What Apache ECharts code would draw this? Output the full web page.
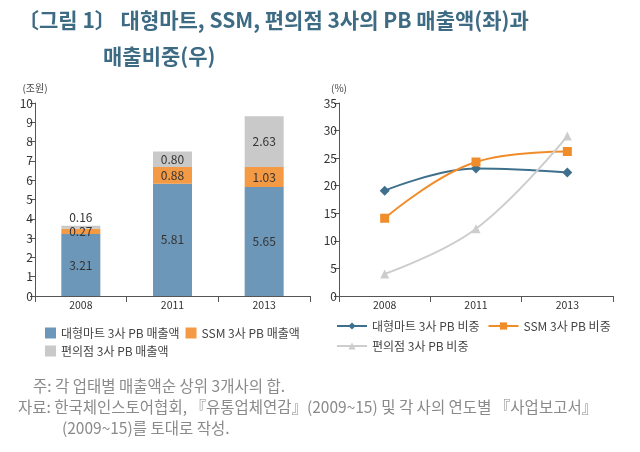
<!DOCTYPE html>
<html><head><meta charset="utf-8">
<script src="https://cdn.jsdelivr.net/npm/echarts@6/dist/echarts.min.js"></script>
<style>html,body{margin:0;padding:0;background:#fff}#c{width:640px;height:452px}</style>
</head><body><div id="c"></div>
<script>
const years = ['2008', '2011', '2013'];
const hyperSales = [3.21, 5.81, 5.65];
const ssmSales = [0.27, 0.88, 1.03];
const cvsSales = [0.16, 0.80, 2.63];
const hyperShare = [19.1, 23.1, 22.4];
const ssmShare = [14.1, 24.3, 26.2];
const cvsShare = [4.0, 12.2, 29.0];
const barNames = ['대형마트 3사 PB 매출액', 'SSM 3사 PB 매출액', '편의점 3사 PB 매출액'];
const lineNames = ['대형마트 3사 PB 비중', 'SSM 3사 PB 비중', '편의점 3사 PB 비중'];

const FONT = '"Noto Sans CJK KR", "Noto Sans", sans-serif';
const barColors = ['#6d97b8', '#f49a45', '#c9c9c9'];
const lineColors = ['#3e6f8c', '#f08c2a', '#cdcdcd'];
const axisColor = '#555';
const labelStyle = { color: '#333', fontSize: 12, fontFamily: FONT };
const noteStyle = { color: '#8a8a8a', fontSize: 15.5, fontWeight: 'normal', fontFamily: FONT };
const titleStyle = { color: '#3e6b84', fontSize: 21, fontWeight: 'bold', fontFamily: FONT };
const legendText = { color: '#444', fontSize: 12, fontFamily: FONT };

const chart = echarts.init(document.getElementById('c'));

function barLabelData(vals) {
  return vals.map(v => {
    const item = { value: v };
    if (v < 0.2) item.label = { position: 'top', distance: 2 };
    return item;
  });
}

const xAxisCommon = {
  type: 'category', data: years,
  axisLine: { lineStyle: { color: axisColor, width: 1 } },
  axisTick: { show: true, length: 6, lineStyle: { color: axisColor } },
  axisLabel: { color: '#333', fontSize: 10.5, fontFamily: FONT, margin: 4 }
};
const yAxisCommon = {
  type: 'value',
  axisLine: { show: true, lineStyle: { color: axisColor } },
  axisTick: { show: true, length: 5, lineStyle: { color: axisColor } },
  splitLine: { show: false },
  axisLabel: { color: '#333', fontSize: 12, fontFamily: FONT, margin: 2 },
  nameTextStyle: { color: '#444', fontSize: 10, fontFamily: FONT, align: 'center', padding: [0, 0, 2, 0] }
};

const barLabel = Object.assign({ show: true, position: 'inside', formatter: p => p.value.toFixed(2) }, labelStyle);

chart.setOption({
  animation: false,
  textStyle: { fontFamily: FONT },
  title: [
    { text: '〔그림 1〕 대형마트, SSM, 편의점 3사의 PB 매출액(좌)과', left: 13, top: 5, textStyle: titleStyle },
    { text: '매출비중(우)', left: 98, top: 41, textStyle: titleStyle },
    { text: '주: 각 업태별 매출액순 상위 3개사의 합.', left: 28, top: 373, textStyle: noteStyle },
    { text: '자료: 한국체인스토어협회, 『유통업체연감』(2009~15) 및 각 사의 연도별 『사업보고서』', left: 13, top: 394, textStyle: noteStyle },
    { text: '(2009~15)를 토대로 작성.', left: 57, top: 415, textStyle: noteStyle }
  ],
  grid: [
    { left: 35, right: 330, top: 103, bottom: 156 },
    { left: 339, right: 27, top: 103, bottom: 156 }
  ],
  xAxis: [
    Object.assign({ gridIndex: 0 }, xAxisCommon),
    Object.assign({ gridIndex: 1 }, xAxisCommon)
  ],
  yAxis: [
    Object.assign({}, yAxisCommon, { gridIndex: 0, min: 0, max: 10, interval: 1, name: '(조원)', nameGap: 8 }),
    Object.assign({}, yAxisCommon, { gridIndex: 1, min: 0, max: 35, interval: 5, name: '(%)', nameGap: 8 })
  ],
  legend: [
    { data: [barNames[0], barNames[1]], left: 40, top: 322, itemWidth: 11, itemHeight: 11, itemGap: 6,
      icon: 'rect', textStyle: legendText },
    { data: [barNames[2]], left: 40, top: 340, itemWidth: 11, itemHeight: 11, itemGap: 6,
      icon: 'rect', textStyle: legendText },
    { data: [lineNames[0], lineNames[1]], left: 331, top: 315, itemWidth: 30, itemHeight: 9, itemGap: 8,
      textStyle: legendText },
    { data: [lineNames[2]], left: 331, top: 335, itemWidth: 30, itemHeight: 9, itemGap: 8,
      textStyle: legendText }
  ],
  series: [
    { name: barNames[0], type: 'bar', stack: 's', xAxisIndex: 0, yAxisIndex: 0, barWidth: 39,
      itemStyle: { color: barColors[0] }, data: hyperSales, label: barLabel },
    { name: barNames[1], type: 'bar', stack: 's', xAxisIndex: 0, yAxisIndex: 0, barWidth: 39,
      itemStyle: { color: barColors[1] }, data: ssmSales, label: barLabel },
    { name: barNames[2], type: 'bar', stack: 's', xAxisIndex: 0, yAxisIndex: 0, barWidth: 39,
      itemStyle: { color: barColors[2] }, data: barLabelData(cvsSales), label: barLabel },
    { name: lineNames[0], type: 'line', xAxisIndex: 1, yAxisIndex: 1, smooth: 0.4, data: hyperShare,
      symbol: 'diamond', symbolSize: 10, lineStyle: { color: lineColors[0], width: 2 }, itemStyle: { color: lineColors[0] } },
    { name: lineNames[1], type: 'line', xAxisIndex: 1, yAxisIndex: 1, smooth: 0.4, data: ssmShare,
      symbol: 'rect', symbolSize: 9, lineStyle: { color: lineColors[1], width: 2 }, itemStyle: { color: lineColors[1] } },
    { name: lineNames[2], type: 'line', xAxisIndex: 1, yAxisIndex: 1, smooth: 0.4, data: cvsShare,
      symbol: 'triangle', symbolSize: 9, lineStyle: { color: lineColors[2], width: 2 }, itemStyle: { color: lineColors[2] } }
  ]
});
</script></body></html>
